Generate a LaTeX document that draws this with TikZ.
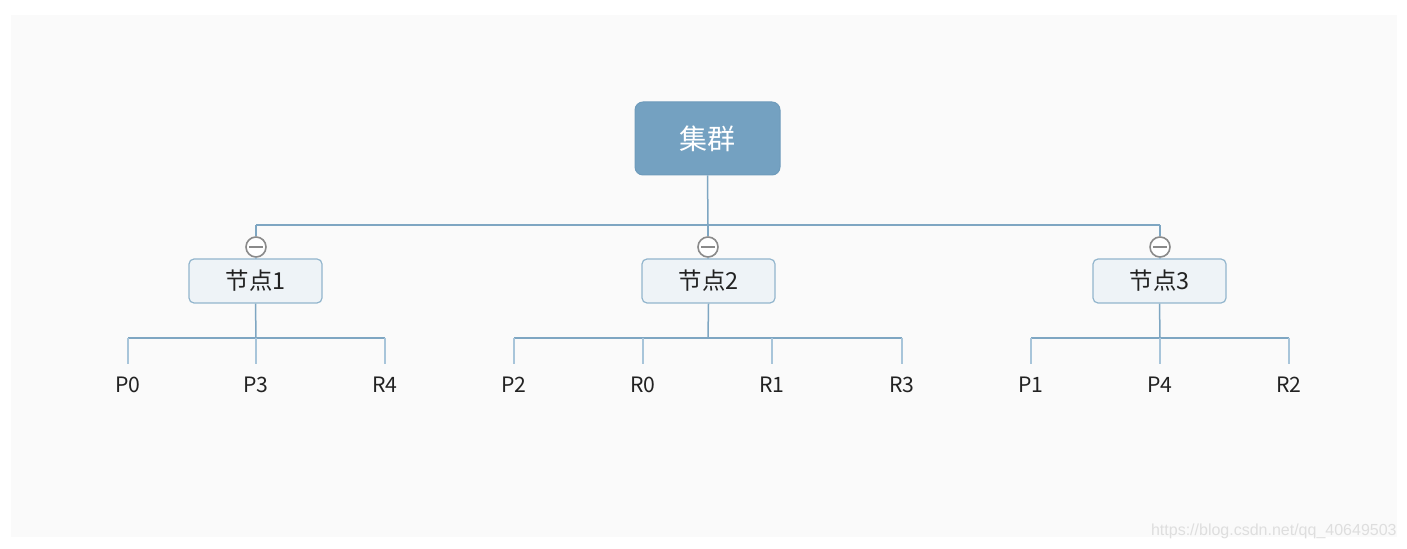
\documentclass[tikz,border=0pt]{standalone}
\usepackage{fontspec}
\setmainfont{Noto Sans CJK SC}
\newfontfamily\wmfont{Liberation Sans}
\definecolor{panel}{HTML}{FAFAFA}
\definecolor{rootfill}{HTML}{74A1C1}
\definecolor{rootdraw}{HTML}{6E9BBB}
\definecolor{kidfill}{HTML}{EEF3F7}
\definecolor{kiddraw}{HTML}{92B5CD}
\definecolor{linec}{HTML}{7EA6C2}
\definecolor{dropc}{HTML}{A8C5DA}
\definecolor{txt}{HTML}{222222}
\definecolor{circ}{HTML}{8A8A8A}
\definecolor{wmc}{HTML}{DEDEDE}
\tikzset{
  rootbox/.style={draw=rootdraw, fill=rootfill, rounded corners=4pt, line width=0.5pt,
    minimum width=72.5pt, minimum height=36.5pt, inner sep=0pt, text=white, font=\fontsize{14pt}{16pt}\selectfont},
  kidbox/.style={draw=kiddraw, fill=kidfill, rounded corners=2.5pt, line width=0.6pt,
    minimum width=66.5pt, minimum height=22pt, inner sep=0pt, text=txt, font=\fontsize{11.7pt}{13pt}\selectfont},
  leaf/.style={inner sep=0pt, text height=7pt, text depth=0pt, outer ysep=7.5pt, anchor=base,
    text=txt, font=\fontsize{10.6pt}{12pt}\selectfont},
  collapse/.style={circle, draw=circ, fill=white, line width=0.8pt, minimum size=10pt, inner sep=0pt},
  conn/.style={draw=linec, line width=0.75pt},
  drop/.style={draw=dropc, line width=1pt},
}
\begin{document}
\begin{tikzpicture}[x=0.5pt,y=-0.5pt]
\useasboundingbox (0,0) rectangle (1407,549);
\fill[white] (0,0) rectangle (1407,549);
\fill[panel] (11,15) rectangle (1397,537);

% root
\node[rootbox] (root) at (707.5,138.5) {集群};

% bus
\coordinate (b1) at (256,225);
\coordinate (b2) at (708,225);
\coordinate (b3) at (1160,225);

% collapse circles
\node[collapse] (c1) at (256,247) {};
\node[collapse] (c2) at (708,247) {};
\node[collapse] (c3) at (1160,247) {};
\foreach \c in {c1,c2,c3}{
  \draw[circ, line width=0.8pt] ([xshift=-3.4pt]\c.center) -- ([xshift=3.4pt]\c.center);
}

% children
\node[kidbox] (n1) at (255.5,281) {节点1};
\node[kidbox] (n2) at (708.5,281) {节点2};
\node[kidbox] (n3) at (1159.5,281) {节点3};

\draw[conn] (root.south) -- (b2);
\draw[conn] (b1) -- (b3);
\draw[conn] (b1) -- (c1.north);
\draw[conn] (b2) -- (c2.north);
\draw[conn] (b3) -- (c3.north);
\draw[conn] (c1.south) -- (n1.north);
\draw[conn] (c2.south) -- (n2.north);
\draw[conn] (c3.south) -- (n3.north);

% leaves
\node[leaf] (p0) at (128,393) {P0};
\node[leaf] (p3) at (256,393) {P3};
\node[leaf] (r4) at (385,393) {R4};
\node[leaf] (p2) at (514,393) {P2};
\node[leaf] (r0) at (643,393) {R0};
\node[leaf] (r1) at (772,393) {R1};
\node[leaf] (r3) at (902,393) {R3};
\node[leaf] (p1) at (1031,393) {P1};
\node[leaf] (p4) at (1160,393) {P4};
\node[leaf] (r2) at (1289,393) {R2};

% branch buses
\coordinate (k1) at (256,338);
\coordinate (k2) at (708,338);
\coordinate (k3) at (1160,338);
\draw[conn] (n1.south) -- (k1);
\draw[conn] (n2.south) -- (k2);
\draw[conn] (n3.south) -- (k3);
\draw[conn] (p0.north |- k1) -- (r4.north |- k1);
\draw[conn] (p2.north |- k2) -- (r3.north |- k2);
\draw[conn] (p1.north |- k3) -- (r2.north |- k3);
\foreach \l/\k in {p0/k1,p3/k1,r4/k1,p2/k2,r0/k2,r1/k2,r3/k2,p1/k3,p4/k3,r2/k3}{
  \draw[drop] (\l.north |- \k) -- (\l.north);
}

% watermark
\node[anchor=base east, inner sep=0pt, text=wmc, font=\wmfont\fontsize{8pt}{10pt}\selectfont] (wm) at (1397,536) {https://blog.csdn.net/qq\_40649503};
\end{tikzpicture}
\end{document}
